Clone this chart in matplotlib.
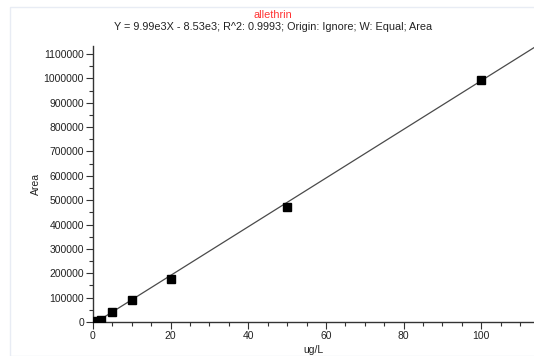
import matplotlib
matplotlib.use("Agg")
import matplotlib.pyplot as plt
from matplotlib.ticker import MultipleLocator
import numpy as np

conc = [1, 2, 5, 10, 20, 50, 100]
area = [3000, 9000, 40000, 89000, 177000, 472000, 995000]
slope = 9.99e3
intercept = -8.53e3
title = "allethrin"
subtitle = "Y = 9.99e3X - 8.53e3; R^2: 0.9993; Origin: Ignore; W: Equal; Area"
yticks = list(range(0, 1100001, 100000))
xticks = [0, 20, 40, 60, 80, 100]

plt.rcParams['font.family'] = ['Liberation Sans', 'DejaVu Sans']

fig = plt.figure(figsize=(5.34, 3.56), dpi=100)
fig.patches.append(plt.Rectangle((10/534, 0), 1, 1 - 7/356, transform=fig.transFigure,
                                 fill=False, edgecolor='#e8ecf4', linewidth=1.0))
ax = fig.add_axes([93/534, 34/356, 1 - 93/534, (322 - 46)/356])

xmax = 113.6
xs = np.array([0, xmax])
ax.plot(xs, slope * xs + intercept, color='#4a4a4a', linewidth=0.9, zorder=2)
ax.plot(conc, area, linestyle='none', marker='s', markersize=6, color='black', zorder=3)

ax.set_xlim(0, xmax)
ax.set_ylim(0, 1133000)
ax.set_yticks(yticks)
ax.set_yticklabels([str(v) for v in yticks])
ax.set_xticks(xticks)
ax.yaxis.set_minor_locator(MultipleLocator(50000))
ax.xaxis.set_minor_locator(MultipleLocator(5))

for s in ['top', 'right']:
    ax.spines[s].set_visible(False)
for s in ['left', 'bottom']:
    ax.spines[s].set_color('#333333')
    ax.spines[s].set_linewidth(1.0)

ax.tick_params(axis='both', which='major', direction='out', length=5, width=0.8,
               colors='#333333', labelsize=7.5, labelcolor='#222222', pad=1.5)
ax.tick_params(axis='both', which='minor', direction='out', length=3, width=0.8, colors='#333333')

ax.set_xlabel("ug/L", fontsize=7.5, color='#222222', labelpad=3)
ax.set_ylabel("Area", fontsize=7.5, color='#222222', labelpad=2)

fig.text(273/534, 1 - 15/356, title, color='#ff3333', fontsize=7.8, ha='center', va='center')
fig.text(273/534, 1 - 27/356, subtitle, color='#222222', fontsize=7.8, ha='center', va='center')

fig.savefig("out.png", dpi=100)
